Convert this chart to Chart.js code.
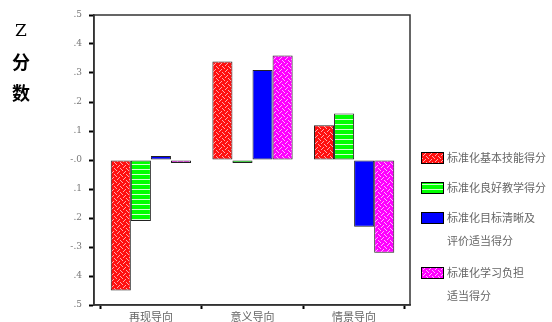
<!DOCTYPE html>
<html lang="zh">
<head>
<meta charset="UTF-8">
<title>Z分数</title>
<style>
  html, body { margin: 0; padding: 0; background: #fff; }
  #wrap { width: 552px; height: 322px; }
</style>
</head>
<body>
<div id="wrap"><canvas id="myChart" width="552" height="322"></canvas></div>
<script src="https://cdn.jsdelivr.net/npm/chart.js"></script>
<script>
const categories = ['再现导向', '意义导向', '情景导向'];
const basicSkill = [-0.45, 0.34, 0.12];
const goodTeaching = [-0.21, -0.01, 0.16];
const clearGoals = [0.014, 0.31, -0.23];
const workload = [-0.01, 0.36, -0.32];
const seriesNames = [
  ['标准化基本技能得分'],
  ['标准化良好教学得分'],
  ['标准化目标清晰及', '评价适当得分'],
  ['标准化学习负担', '适当得分']
];
const yTickLabels = ['.5', '.4', '.3', '.2', '.1', '-.0', '.1', '.2', '-.3', '.4', '.5'];
const yTitle = ['Z', '分', '数'];

// fill patterns
function hatch(bg, fg) {
  const c = document.createElement('canvas');
  c.width = 6; c.height = 6;
  const x = c.getContext('2d');
  x.fillStyle = bg;
  x.fillRect(0, 0, 6, 6);
  x.fillStyle = fg;
  for (let i = 0; i < 6; i += 2) {
    x.fillRect(i, i, 1, 1);
    x.fillRect((i + 3) % 6, 5 - i, 1, 1);
  }
  return x.createPattern(c, 'repeat');
}
function stripes(bg, fg) {
  const c = document.createElement('canvas');
  c.width = 4; c.height = 5;
  const x = c.getContext('2d');
  x.fillStyle = bg;
  x.fillRect(0, 0, 4, 5);
  x.fillStyle = fg;
  x.fillRect(0, 4, 4, 1);
  return x.createPattern(c, 'repeat');
}
const fills = [
  hatch('#ff1010', 'rgba(255,190,190,0.9)'),
  stripes('#00ff00', 'rgba(220,255,220,0.95)'),
  '#0000ff',
  hatch('#ff00ff', 'rgba(255,200,255,0.9)')
];

const frame = {
  id: 'frame',
  afterDraw(chart) {
    const { ctx, chartArea: a } = chart;
    ctx.save();
    ctx.strokeStyle = '#333';
    ctx.lineWidth = 1.5;
    ctx.strokeRect(a.left, a.top, a.right - a.left, a.bottom - a.top);

    // y title
    ctx.fillStyle = '#000';
    ctx.textAlign = 'center';
    ctx.textBaseline = 'middle';
    ctx.font = '17px "DejaVu Serif"';
    ctx.fillText(yTitle[0], 21, 32);
    ctx.font = 'bold 18px "Noto Sans CJK SC"';
    ctx.fillText(yTitle[1], 21, 62);
    ctx.fillText(yTitle[2], 21, 93);

    // legend
    const rows = [158, 188, 218, 273];
    ctx.textAlign = 'left';
    ctx.font = '11px "Noto Sans CJK SC"';
    seriesNames.forEach((lines, i) => {
      const y = rows[i];
      ctx.fillStyle = fills[i];
      ctx.fillRect(421, y - 6, 23, 12);
      ctx.strokeStyle = '#000';
      ctx.lineWidth = 1;
      ctx.strokeRect(421.5, y - 5.5, 22, 11);
      ctx.fillStyle = '#666';
      lines.forEach((t, j) => ctx.fillText(t, 447, y + j * 23));
    });
    ctx.restore();
  }
};

const datasets = [basicSkill, goodTeaching, clearGoals, workload].map((d, i) => ({
  label: seriesNames[i].join(''),
  data: d.map((v, k) => ({ x: k + 1, y: v })),
  backgroundColor: fills[i],
  borderColor: '#222',
  borderWidth: 1,
  borderSkipped: false
}));

new Chart(document.getElementById('myChart'), {
  type: 'bar',
  data: { datasets: datasets },
  options: {
    responsive: false,
    animation: false,
    events: [],
    categoryPercentage: 0.79,
    barPercentage: 1,
    layout: { padding: { top: 15, right: 142, left: 0, bottom: 0 } },
    plugins: { legend: { display: false }, tooltip: { enabled: false } },
    scales: {
      x: {
        type: 'linear',
        min: 0.44,
        max: 3.55,
        offset: false,
        afterBuildTicks(s) { s.ticks = categories.map((c, k) => ({ value: k + 1 })); },
        grid: { display: true, drawOnChartArea: false, tickLength: 4, tickWidth: 2, tickColor: '#000' },
        border: { color: '#333', width: 1.5 },
        ticks: {
          color: '#666', padding: 1, autoSkip: false, maxRotation: 0,
          font: { family: 'Noto Sans CJK SC', size: 11 },
          callback: (v) => categories[Math.round(v) - 1]
        },
        afterFit(s) { s.height = 17; }
      },
      y: {
        min: -0.5,
        max: 0.5,
        grid: { display: true, drawOnChartArea: false, tickLength: 5, tickWidth: 2, tickColor: '#000' },
        border: { color: '#333', width: 1.5 },
        ticks: {
          stepSize: 0.1,
          color: '#777',
          padding: 7,
          font: { family: 'DejaVu Serif', size: 9 },
          callback: (v, i, t) => yTickLabels[t.length - 1 - i]
        },
        afterFit(s) { s.width = 94; }
      }
    }
  },
  plugins: [frame]
});
</script>
</body>
</html>
